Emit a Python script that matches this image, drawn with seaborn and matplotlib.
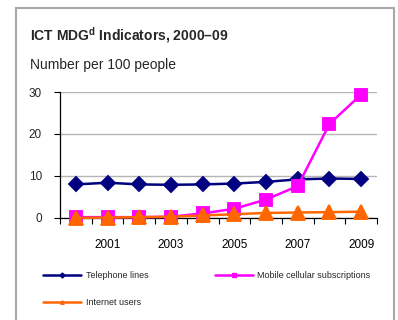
import numpy as np
import pandas as pd
import seaborn as sns
import matplotlib.pyplot as plt
from matplotlib.lines import Line2D
from matplotlib.patches import Rectangle

years = ['2000', '2001', '2002', '2003', '2004', '2005', '2006', '2007', '2008', '2009']
telephone = [8.0, 8.4, 8.0, 7.9, 8.0, 8.2, 8.6, 9.2, 9.4, 9.3]
mobile = [0.2, 0.2, 0.2, 0.3, 1.1, 2.2, 4.4, 7.6, 22.4, 29.4]
internet = [0.0, 0.1, 0.2, 0.3, 0.6, 0.9, 1.2, 1.3, 1.4, 1.5]
yticks = [0, 10, 20, 30]

sns.set_style('white')
plt.rcParams['font.family'] = ['Liberation Sans', 'DejaVu Sans']
plt.rcParams['mathtext.fontset'] = 'custom'
plt.rcParams['mathtext.bf'] = 'Liberation Sans:bold'
plt.rcParams['mathtext.rm'] = 'Liberation Sans'

df = pd.DataFrame({'year': years, 'Telephone lines': telephone,
                   'Mobile cellular subscriptions': mobile, 'Internet users': internet})

fig = plt.figure(figsize=(3.98, 3.2), dpi=100)
ax = fig.add_axes([60/398, 1-218/320, 317/398, 126/320])

# series: column, colour, marker, marker size
series = [('Telephone lines', '#000080', 'D', 7.5),
          ('Mobile cellular subscriptions', '#ff00ff', 's', 9),
          ('Internet users', '#ff6600', '^', 9.5)]
for col, c, m, ms in series:
    sns.pointplot(data=df, x='year', y=col, color=c, markers=m, ax=ax,
                  linewidth=1.8, markersize=ms, clip_on=False, zorder=3)

ax.set_xlim(-0.5, 9.5)
ax.set_ylim(0, 30)
ax.set_yticks(yticks)
ax.set_xticks([1, 3, 5, 7, 9])
ax.set_xticklabels([years[i] for i in [1, 3, 5, 7, 9]])
ax.set_xticks(np.arange(-0.5, 10, 1), minor=True)
ax.tick_params(axis='x', which='major', length=0, pad=15, labelsize=8.5, colors='black')
ax.tick_params(axis='x', which='minor', length=4, width=0.8, color='black', direction='out', bottom=True)
ax.tick_params(axis='y', length=4, width=0.8, color='black', direction='out', left=True,
               labelsize=8.5, pad=9)
ax.set_xlabel('')
ax.set_ylabel('')
ax.yaxis.grid(True, color='#b5b5b5', lw=1)
ax.set_axisbelow(True)
for s in ['top', 'right']:
    ax.spines[s].set_visible(False)
for s in ['left', 'bottom']:
    ax.spines[s].set_color('black')
    ax.spines[s].set_linewidth(0.9)

# frame round the whole panel
fig.patches.append(Rectangle((16/398, -0.05), 378/398, 1 - 8/320 + 0.05, transform=fig.transFigure,
                             fill=False, edgecolor='#a8a8a8', lw=1.5))

fig.text(30/398, 1-35/320, r'ICT MDG$^{\mathbf{d}}$ Indicators, 2000–09', fontsize=10,
         fontweight='bold', va='center')
fig.text(30/398, 1-65/320, 'Number per 100 people', fontsize=10, va='center')

# legend filled column by column: telephone, internet | mobile
order = [0, 2, 1]
handles = [Line2D([], [], color=series[i][1], marker=series[i][2], markersize=2.5, lw=1.8) for i in order]
labels = [series[i][0] for i in order]
fig.legend(handles, labels, ncol=2, loc='upper left', bbox_to_anchor=(35/398, 1-263/320),
           frameon=False, fontsize=6.5, handlelength=4.2, columnspacing=7.4,
           labelspacing=2.0, handletextpad=0.5)

fig.savefig('out.png', dpi=100)
